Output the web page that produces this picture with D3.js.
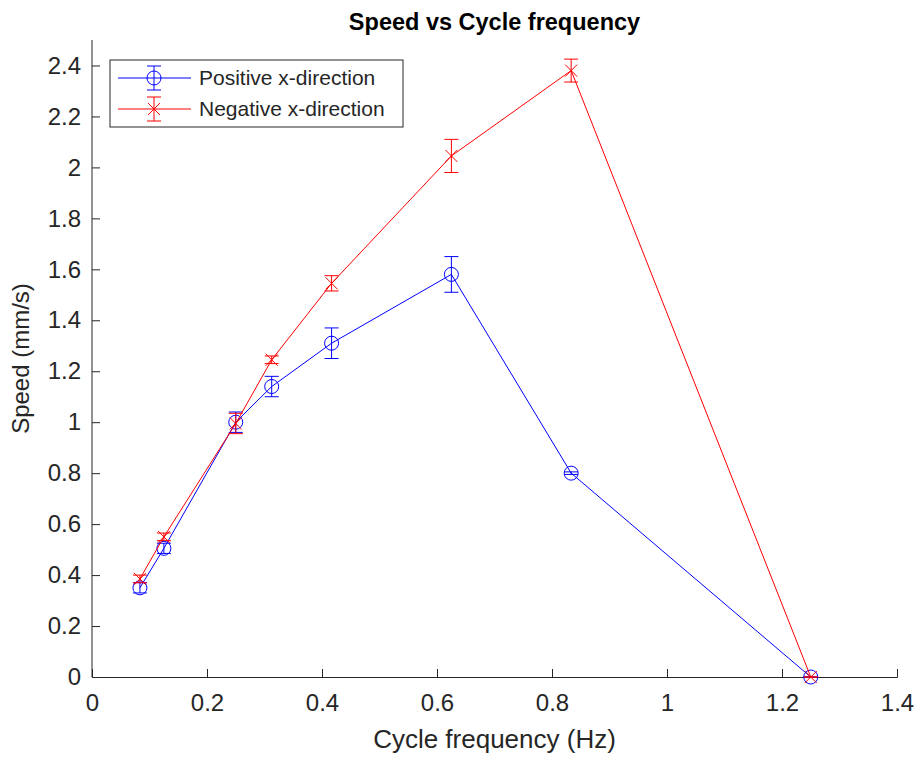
<!DOCTYPE html>
<html>
<head>
<meta charset="utf-8">
<script src="https://cdn.jsdelivr.net/npm/d3@7"></script>
<style>
  body { margin: 0; background: #fff; }
  svg { font-family: "Liberation Sans", Arial, Helvetica, sans-serif; }
</style>
</head>
<body>
<div id="chart"></div>
<script>
// Values
const freq = [1/12, 0.125, 0.25, 0.3125, 5/12, 0.625, 5/6, 1.25];
const posSpeed = [0.35, 0.505, 1.0, 1.14, 1.31, 1.58, 0.80, 0];
const posErr   = [0.02, 0.02, 0.04, 0.04, 0.06, 0.07, 0.005, 0];
const negSpeed = [0.385, 0.55, 0.995, 1.245, 1.545, 2.045, 2.38, 0];
const negErr   = [0.015, 0.015, 0.04, 0.015, 0.03, 0.065, 0.045, 0];
const xTicks = [0, 0.2, 0.4, 0.6, 0.8, 1, 1.2, 1.4];
const yTicks = [0, 0.2, 0.4, 0.6, 0.8, 1, 1.2, 1.4, 1.6, 1.8, 2, 2.2, 2.4];

const width = 919, height = 757;
const margin = { top: 40, right: 22, bottom: 80, left: 92 };
const innerW = width - margin.left - margin.right;
const innerH = height - margin.top - margin.bottom;
const axisColor = '#262626';

const svg = d3.select('#chart').append('svg')
    .attr('width', width)
    .attr('height', height);

const g = svg.append('g')
    .attr('transform', `translate(${margin.left},${margin.top})`);

const x = d3.scaleLinear().domain([0, 1.4]).range([0, innerW]);
const y = d3.scaleLinear().domain([0, 2.5]).range([innerH, 0]);

// Axes (left + bottom only, ticks pointing inward like MATLAB)
const fmt = d => String(+d.toFixed(1));
const xAxis = g.append('g')
    .attr('transform', `translate(0,${innerH})`)
    .call(d3.axisBottom(x).tickValues(xTicks).tickFormat(fmt).tickSizeInner(-8).tickSizeOuter(-8).tickPadding(17));
const yAxis = g.append('g')
    .call(d3.axisLeft(y).tickValues(yTicks).tickFormat(fmt).tickSizeInner(-8).tickSizeOuter(0).tickPadding(11));

[xAxis, yAxis].forEach(a => {
    a.select('.domain').attr('stroke', axisColor);
    a.selectAll('.tick line').attr('stroke', axisColor);
    a.selectAll('.tick text')
        .attr('fill', axisColor)
        .style('font-size', '24px');
});
yAxis.select('.domain').attr('d', `M0,${innerH}V0`);

// Axis labels and title
g.append('text')
    .attr('x', innerW / 2)
    .attr('y', innerH + 71)
    .attr('text-anchor', 'middle')
    .attr('fill', axisColor)
    .style('font-size', '26px')
    .text('Cycle frequency (Hz)');

g.append('text')
    .attr('transform', `translate(-63,${innerH / 2}) rotate(-90)`)
    .attr('text-anchor', 'middle')
    .attr('fill', axisColor)
    .style('font-size', '24px')
    .text('Speed (mm/s)');

svg.append('text')
    .attr('x', margin.left + innerW / 2)
    .attr('y', 30)
    .attr('text-anchor', 'middle')
    .attr('fill', '#000')
    .style('font-size', '23.5px')
    .style('font-weight', 'bold')
    .text('Speed vs Cycle frequency');

const series = [
    { name: 'Positive x-direction', color: '#0000ff', marker: 'circle',
      data: freq.map((f, i) => ({ f, v: posSpeed[i], e: posErr[i] })) },
    { name: 'Negative x-direction', color: '#ff0000', marker: 'cross',
      data: freq.map((f, i) => ({ f, v: negSpeed[i], e: negErr[i] })) }
];

const line = d3.line().x(d => x(d.f)).y(d => y(d.v));
const cap = 7;

function drawMarker(sel, type, color) {
    if (type === 'circle') {
        sel.append('circle').attr('r', 7).attr('fill', 'none')
            .attr('stroke', color).attr('stroke-width', 1);
    } else {
        const s = 6;
        sel.append('path').attr('d', `M${-s},${-s}L${s},${s}M${-s},${s}L${s},${-s}`)
            .attr('stroke', color).attr('stroke-width', 1);
    }
}

series.forEach(s => {
    const sg = g.append('g');
    sg.append('path')
        .datum(s.data)
        .attr('fill', 'none')
        .attr('stroke', s.color)
        .attr('stroke-width', 1)
        .attr('d', line);

    const pts = sg.selectAll('.pt')
        .data(s.data)
        .join('g')
        .attr('transform', d => `translate(${x(d.f)},${y(d.v)})`);

    // error bars
    pts.append('path')
        .attr('d', d => {
            const t = y(d.v + d.e) - y(d.v), b = y(d.v - d.e) - y(d.v);
            return `M0,${t}V${b}M${-cap},${t}H${cap}M${-cap},${b}H${cap}`;
        })
        .attr('fill', 'none')
        .attr('stroke', s.color)
        .attr('stroke-width', 1);

    pts.each(function() { drawMarker(d3.select(this), s.marker, s.color); });
});

// Legend
const legend = g.append('g').attr('transform', 'translate(18,20)');
legend.append('rect')
    .attr('width', 293).attr('height', 67)
    .attr('fill', '#fff').attr('stroke', axisColor).attr('stroke-width', 1);

series.forEach((s, i) => {
    const row = legend.append('g').attr('transform', `translate(0,${18 + i * 31})`);
    row.append('line').attr('x1', 8).attr('x2', 81)
        .attr('stroke', s.color).attr('stroke-width', 1);
    const m = row.append('g').attr('transform', 'translate(44,0)');
    m.append('path').attr('d', `M0,-12V12M${-cap},-12H${cap}M${-cap},12H${cap}`)
        .attr('stroke', s.color).attr('fill', 'none');
    drawMarker(m, s.marker, s.color);
    row.append('text')
        .attr('x', 89).attr('y', 7)
        .attr('fill', axisColor)
        .style('font-size', '21px')
        .text(s.name);
});
</script>
</body>
</html>
